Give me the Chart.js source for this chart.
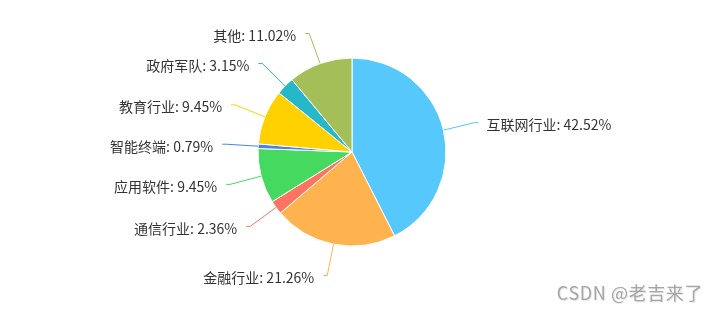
<!DOCTYPE html>
<html>
<head>
<meta charset="utf-8">
<script src="https://cdn.jsdelivr.net/npm/chart.js@4/dist/chart.umd.min.js"></script>
<style>
  html, body { margin: 0; padding: 0; background: #fff; }
  #wrap { position: relative; width: 716px; height: 310px; }
  #mark {
    position: absolute; right: 13px; top: 279px;
    font: 18px "Noto Sans CJK SC", sans-serif; color: #a6a6a6;
    letter-spacing: 0.6px;
    text-shadow: 1px 1px 1px #e4e4e4;
  }
</style>
</head>
<body>
<div id="wrap">
  <canvas id="c" width="716" height="310"></canvas>
  <div id="mark">CSDN @老吉来了</div>
</div>
<script>
// pie data, clockwise from top
const names = ["互联网行业", "金融行业", "通信行业", "应用软件", "智能终端", "教育行业", "政府军队", "其他"];
const counts = [54, 27, 3, 12, 1, 12, 4, 14];
const colors = ["#57c8fc", "#ffb34f", "#ff7362", "#45da5f", "#4a84de", "#ffd100", "#25b8c8", "#a4be58"];

const total = counts.reduce((a, b) => a + b, 0);

// outside labels with leader lines
const outLabels = {
  id: "outLabels",
  afterDatasetsDraw(chart) {
    const ctx = chart.ctx;
    const meta = chart.getDatasetMeta(0);
    ctx.save();
    ctx.font = '14px "Noto Sans CJK SC", sans-serif';
    ctx.textBaseline = "middle";
    meta.data.forEach((arc, i) => {
      const p = arc.getProps(["x", "y", "startAngle", "endAngle", "outerRadius"], true);
      const mid = (p.startAngle + p.endAngle) / 2;
      const c = Math.cos(mid), s = Math.sin(mid);
      const r = p.outerRadius;
      const x0 = p.x + c * r, y0 = p.y + s * r;
      const x1 = p.x + c * (r + 32), y1 = p.y + s * (r + 32);
      const right = c >= 0;
      const x2 = x1 + (right ? 4 : -4);

      ctx.strokeStyle = colors[i];
      ctx.lineWidth = 1;
      ctx.beginPath();
      ctx.moveTo(x0, y0);
      ctx.lineTo(x1, y1);
      ctx.lineTo(x2, y1);
      ctx.stroke();

      const pct = (counts[i] / total * 100).toFixed(2);
      ctx.fillStyle = "#333";
      ctx.textAlign = right ? "left" : "right";
      ctx.fillText(names[i] + ": " + pct + "%", x2 + (right ? 8 : -9), y1 + 2);
    });
    ctx.restore();
  }
};

new Chart(document.getElementById("c"), {
  type: "pie",
  data: {
    labels: names,
    datasets: [{
      data: counts,
      backgroundColor: colors,
      borderColor: "#fff",
      borderWidth: 1
    }]
  },
  options: {
    responsive: false,
    animation: false,
    radius: 94,
    layout: { padding: { top: 0, bottom: 6, left: 0, right: 12 } },
    plugins: {
      legend: { display: false },
      tooltip: { enabled: false }
    }
  },
  plugins: [outLabels]
});
</script>
</body>
</html>
